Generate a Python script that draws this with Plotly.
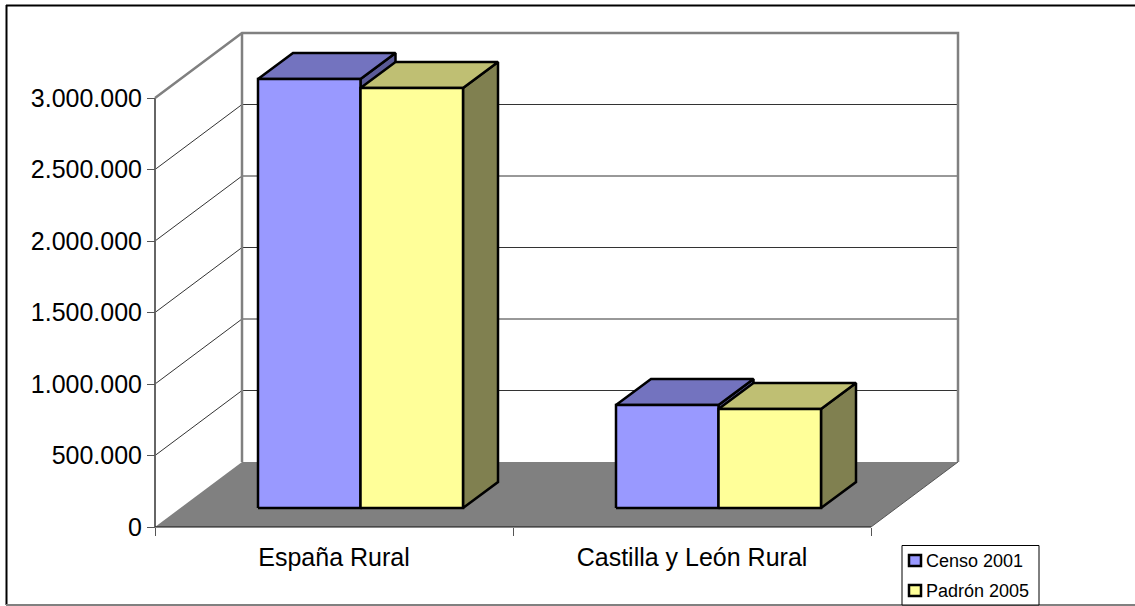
import plotly.graph_objects as go

# ---- data ----
categories = ["España Rural", "Castilla y León Rural"]
series_names = ["Censo 2001", "Padrón 2005"]
censo_2001 = [3000000, 720000]
padron_2005 = [2937000, 692000]
y_ticks = [0, 500000, 1000000, 1500000, 2000000, 2500000, 3000000]

# ---- styling / layout ----
W, H = 1135, 606
X0, CAT_W = 334, 358      # px of first category centre, px per category
Y0, PX_PER_M = 527, 143   # px of zero, px per million
K = 1e6 / PX_PER_M
WALL_DX, WALL_DY = 87, 65
BAR_DX, BAR_DY = 35, 26
BAR_W, BAR_SHIFT, BAR_LIFT = 102.5, 26.5, 19
COLORS = {
    0: ("#9999FF", "#7373BF", "#5A5A96"),
    1: ("#FFFF99", "#BFBF73", "#808050"),
}
GRAY = "#808080"
FONT = "Liberation Sans, Arial, sans-serif"


def dx(px):
    return px / CAT_W


def dy(px):
    return px * K


fig = go.Figure()


def poly(xs, ys, fill=None, line=None, width=1):
    fig.add_trace(go.Scatter(
        x=xs, y=ys, mode="lines", showlegend=False, hoverinfo="skip",
        fill="toself" if fill else None, fillcolor=fill,
        line=dict(color=line or "rgba(0,0,0,0)", width=width, simplify=False),
    ))


x_left, x_right = -0.5, 1.5
wx, wy = dx(WALL_DX), dy(WALL_DY)
top = y_ticks[-1]

# floor
poly([x_left, x_right, x_right + wx, x_left + wx, x_left],
     [0, 0, wy, wy, 0], fill=GRAY)
# grid lines
for v in y_ticks[1:-1]:
    poly([x_left, x_left + wx, x_right + wx], [v, v + wy, v + wy],
         line="#333333", width=1)
# walls
poly([x_left, x_left], [0, top], line="#666666", width=2)
poly([x_left, x_left + wx, x_right + wx, x_right + wx],
     [top, top + wy, top + wy, wy], line=GRAY, width=2.5)
poly([x_left + wx, x_left + wx], [wy, top + wy], line=GRAY, width=2.5)
# floor front and right edges
poly([x_left, x_right], [0, 0], line="#111111", width=1)
poly([x_right, x_right + wx], [0, wy], line="#555555", width=1)

# 3D bars
bw, bdx, bdy = dx(BAR_W), dx(BAR_DX), dy(BAR_DY)
lift = dy(BAR_LIFT)
for c in range(len(categories)):
    for s, vals in enumerate([censo_2001, padron_2005]):
        front, tcol, scol = COLORS[s]
        l = c + dx(BAR_SHIFT) - bw + s * bw
        r = l + bw
        b = lift
        t = lift + vals[c]
        poly([r, r + bdx, r + bdx, r, r], [b, b + bdy, t + bdy, t, b],
             fill=scol, line="#000000", width=2.5)
        poly([l, l + bdx, r + bdx, r, l], [t, t + bdy, t + bdy, t, t],
             fill=tcol, line="#000000", width=2.5)
        poly([l, r, r, l, l], [b, b, t, t, b],
             fill=front, line="#000000", width=2.5)


def page_line(x0, y0, x1, y1, color, width):
    return dict(type="line", xref="paper", yref="paper",
                x0=x0 / W, x1=x1 / W, y0=1 - y0 / H, y1=1 - y1 / H,
                line=dict(color=color, width=width), layer="below")


shapes = [
    page_line(6, 5.5, W, 5.5, "#000000", 2),
    page_line(6.5, 5, 6.5, 605, "#000000", 2),
    page_line(6, 605, W, 605, GRAY, 2),
    dict(type="rect", xref="paper", yref="paper", x0=902 / W, x1=1039 / W,
         y0=1 - 605 / H, y1=1 - 545.5 / H, line=dict(color="#000000", width=1),
         fillcolor="#FFFFFF"),
    page_line(902, 605, 1039, 605, GRAY, 2),
]
annotations = []
for i, name in enumerate(series_names):
    cy = 560.5 + i * 30
    shapes.append(dict(type="rect", xref="paper", yref="paper",
                       x0=909 / W, x1=921 / W,
                       y0=1 - (cy + 5.5) / H, y1=1 - (cy - 5.5) / H,
                       fillcolor=COLORS[i][0],
                       line=dict(color="#000000", width=2.5)))
    annotations.append(dict(text=name, xref="paper", yref="paper",
                            x=925 / W, y=1 - cy / H, xanchor="left",
                            yanchor="middle", showarrow=False, xshift=-1,
                            font=dict(family=FONT, size=18, color="#000000")))

fig.update_layout(
    width=W, height=H, margin=dict(l=0, r=0, t=0, b=0),
    paper_bgcolor="#FFFFFF", plot_bgcolor="#FFFFFF",
    showlegend=False, separators=",.",
    font=dict(family=FONT, size=25, color="#000000"),
    shapes=shapes, annotations=annotations,
    xaxis=dict(
        range=[(0 - X0) / CAT_W, (W - X0) / CAT_W], domain=[0, 1],
        anchor="free", position=1 - Y0 / H,
        tickmode="array", tickvals=[0, 1], ticktext=categories,
        ticks="", showgrid=False, zeroline=False, showline=False,
        ticklabelstandoff=13, tickfont=dict(size=25),
        minor=dict(tickmode="array", tickvals=[-0.5, 0.5, 1.5],
                   ticks="outside", ticklen=8, tickcolor="#555555",
                   tickwidth=1, showgrid=False),
    ),
    yaxis=dict(
        range=[(Y0 - H) * K, Y0 * K], domain=[0, 1],
        anchor="free", position=155 / W,
        tickmode="array", tickvals=y_ticks,
        tickformat=",d", ticks="outside", ticklen=8, tickcolor="#555555",
        tickwidth=1, showgrid=False, zeroline=False, showline=False,
        tickfont=dict(size=25),
    ),
)

fig.write_html("out.html", config={"displayModeBar": False},
               post_script="document.body.style.margin='0';window.dispatchEvent(new Event('resize'));")
